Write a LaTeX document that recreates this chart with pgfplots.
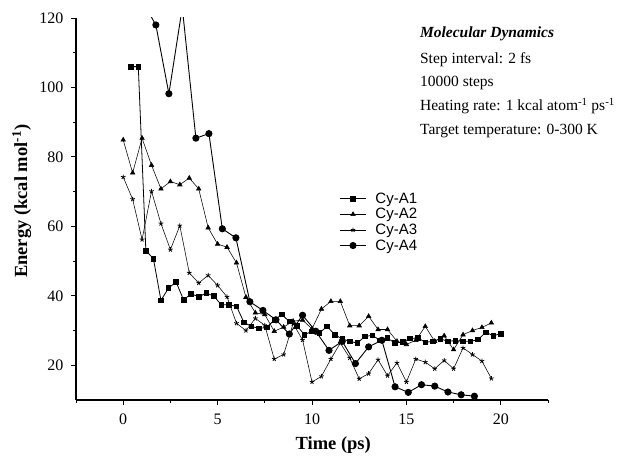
\documentclass[border=0pt]{standalone}
\usepackage{fontspec}
\setmainfont{Liberation Serif}
\newfontfamily\legendfont{Liberation Sans}
\usepackage{pgfplots}
\pgfplotsset{compat=1.18}

\begin{document}
\begin{tikzpicture}
\begin{axis}[
    scale only axis,
    width=472pt, height=382pt,
    xmin=-2.5, xmax=22.5,
    ymin=10, ymax=120,
    axis x line*=bottom, axis y line*=left,
    xtick={0,5,10,15,20},
    minor xtick={-2.5,2.5,7.5,12.5,17.5,22.5},
    ytick={20,40,...,120},
    minor ytick={30,50,...,110},
    tick align=outside,
    major tick length=5pt, minor tick length=3pt,
    tick style={line width=0.9pt, black},
    axis line style={line width=1.1pt},
    tick label style={font=\fontsize{16}{16}\selectfont},
    xticklabel style={yshift=-5pt},
    yticklabel style={xshift=-4pt},
    /pgf/number format/assume math mode=true,
    xlabel={Time (ps)},
    ylabel={Energy (kcal mol\textsuperscript{-1})},
    label style={font=\bfseries\fontsize{18.5}{18.5}\selectfont},
    xlabel style={at={(axis description cs:0.545,-0.118)}, anchor=center},
    ylabel style={at={(axis description cs:-0.115,0.52)}, anchor=center},
    clip mode=individual,
    legend style={at={(axis cs:11.45,70)}, anchor=north west,
        draw=none, fill=none, inner sep=0pt, row sep=1.6pt,
        font=\legendfont\fontsize{15}{15}\selectfont,
        nodes={inner sep=1pt}},
    legend cell align=left,
    legend image code/.code={
        \draw[mark repeat=2,mark phase=2,#1]
        plot coordinates {(0pt,0pt)(13pt,0pt)(26pt,0pt)};
        \path (34pt,0pt);
    },
]
\coordinate (sw) at (rel axis cs:0,0);
\coordinate (ne) at (rel axis cs:1,1);

% Cy-A1
\addplot[black, line width=0.8pt, mark=square*, mark size=2.3pt] coordinates {
(0.4,106) (0.8,106) (1.2,53) (1.6,50.7) (2.0,38.7) (2.4,42.2) (2.8,44.0)
(3.2,38.8) (3.6,40.6) (4.0,39.7) (4.4,40.8) (4.8,39.9) (5.2,37.4) (5.6,37.4)
(6.0,37.0) (6.4,32.3) (6.8,31.2) (7.2,30.6) (7.6,30.9) (8.0,33.0) (8.4,34.6)
(8.8,32.6) (9.2,31.4) (9.6,28.8) (10.0,29.8) (10.4,29.3) (10.8,31.2) (11.2,28.8)
(11.6,27.6) (12.0,26.9) (12.4,26.4) (12.8,28.3) (13.2,28.6) (13.6,27.2) (14.0,27.8)
(14.4,26.4) (14.8,26.7) (15.2,27.7) (15.6,27.9) (16.0,26.6) (16.4,26.9) (16.8,27.6)
(17.2,26.9) (17.6,27.1) (18.0,26.9) (18.4,26.9) (18.8,27.4) (19.2,29.5) (19.6,28.5)
(20.0,29.1)
};
% Cy-A2
\addplot[black, line width=0.55pt, mark=triangle*, mark size=2.6pt] coordinates {
(0,84.9) (0.5,75.4) (1.0,85.4) (1.5,77.6) (2.0,70.8) (2.5,72.9) (3.0,72.0)
(3.5,73.9) (4.0,70.8) (4.5,59.6) (5.0,54.9) (5.5,54.0) (6.0,49.5) (6.5,39.6)
(7.0,35.1) (7.5,34.6) (8.0,29.8) (8.5,31.0) (9.0,32.7) (9.5,33.0) (10.0,30.5)
(10.5,36.2) (11.0,38.4) (11.5,38.4) (12.0,31.4) (12.5,31.4) (13.0,34.1) (13.5,30.3)
(14.0,30.3) (14.5,26.9) (15.0,26.0) (15.5,27.2) (16.0,31.2) (16.5,26.9) (17.0,28.5)
(17.5,24.5) (18.0,28.8) (18.5,30.0) (19.0,30.9) (19.5,32.2)
};
% Cy-A3
\addplot[black, line width=0.55pt, mark=star, mark size=2.4pt, mark options={line width=0.8pt}] coordinates {
(0,74.2) (0.5,67.8) (1.0,56.2) (1.5,70.1) (2.0,60.8) (2.5,53.3) (3.0,60.2)
(3.5,46.6) (4.0,43.7) (4.5,45.9) (5.0,43.0) (5.5,39.7) (6.0,32.1) (6.5,30.0)
(7.0,33.5) (7.5,31.5) (8.0,21.8) (8.5,23.1) (9.0,32.0) (9.5,27.3) (10.0,15.2)
(10.5,16.8) (11.0,21.8) (11.5,26.4) (12.0,22.1) (12.5,16.1) (13.0,17.6) (13.5,21.6)
(14.0,17.0) (14.5,20.7) (15.0,15.2) (15.5,21.8) (16.0,20.9) (16.5,19.0) (17.0,21.4)
(17.5,19.0) (18.0,25.0) (18.5,23.1) (19.0,21.2) (19.5,16.2)
};
% Cy-A4
\addplot[black, line width=0.9pt, mark=*, mark size=3.1pt] coordinates {
(1.0,125) (1.73,118.0) (2.42,98.2) (3.13,123) (3.85,85.4) (4.54,86.7) (5.25,59.3)
(5.97,56.7) (6.71,38.3) (7.4,35.8) (8.09,33.1) (8.8,29.0) (9.5,34.4) (10.2,29.8)
(10.9,24.3) (11.6,26.9) (12.3,20.5) (13.0,25.3) (13.7,27.2) (14.4,13.8) (15.1,12.2)
(15.8,14.4) (16.5,14.0) (17.2,12.3) (17.9,11.5) (18.6,11.1) (19.3,7)
};
\legend{Cy-A1, Cy-A2, Cy-A3, Cy-A4}

\node[anchor=base west, font=\bfseries\itshape\fontsize{15.5}{15.5}\selectfont] at (axis cs:15.54,114.5) {Molecular Dynamics};
\node[anchor=base west, font=\fontsize{15.5}{15.5}\selectfont] at (axis cs:15.54,107.0) {Step interval: 2 fs};
\node[anchor=base west, font=\fontsize{15.5}{15.5}\selectfont] at (axis cs:15.54,100.3) {10000 steps};
\node[anchor=base west, font=\fontsize{15.5}{15.5}\selectfont] at (axis cs:15.54,93.3) {Heating rate: 1 kcal atom\textsuperscript{-1} ps\textsuperscript{-1}};
\node[anchor=base west, font=\fontsize{15.5}{15.5}\selectfont] at (axis cs:15.54,86.4) {Target temperature: 0-300 K};
\end{axis}
\pgfresetboundingbox
\path[use as bounding box] ([shift={(-76pt,-60pt)}]sw) rectangle ([shift={(70pt,18pt)}]ne);
\end{tikzpicture}
\end{document}
